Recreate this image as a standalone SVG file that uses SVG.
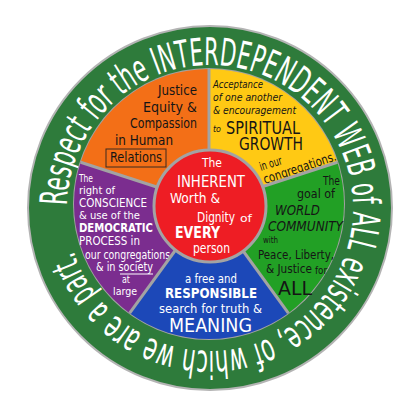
<svg xmlns="http://www.w3.org/2000/svg" width="420" height="420" viewBox="0 0 420 420">
<defs>
<style>
text{font-family:"Liberation Sans Narrow","DejaVu Sans Condensed","Liberation Sans",sans-serif;}
.k{fill:#151515;}
.w{fill:#ffffff;}
.it{font-style:italic;}
.sep{stroke:#a3a3a3;stroke-width:3;fill:none;}
</style>
<path id="ringPath" d="M67.02,205.50 A143,143 0 0 1 352.98,210.50 A143,143 0 0 1 69.17,232.83"/>
</defs>
<rect width="420" height="420" fill="#ffffff"/>
<g id="ring">
<circle cx="210" cy="208" r="182" fill="#2e7b3b" stroke="#b4b4b4" stroke-width="2"/>
<text class="w" font-size="38"><textPath href="#ringPath" textLength="852" lengthAdjust="spacingAndGlyphs">Respect for the INTERDEPENDENT WEB of ALL existence, of which we are a part.</textPath></text>
</g>
<g id="disc">
<circle cx="209" cy="204" r="136" fill="#a3a3a3"/>
</g>
<g id="sector-orange">
<path d="M209,204 L80.61,162.28 A135,135 0 0 1 209,69 Z" fill="#f36f17"/>
<g font-size="14" class="k">
<text x="158" y="95" textLength="39" lengthAdjust="spacingAndGlyphs">Justice</text>
<text x="143" y="112" textLength="54" lengthAdjust="spacingAndGlyphs">Equity &amp;</text>
<text x="130" y="128" textLength="67" lengthAdjust="spacingAndGlyphs">Compassion</text>
<text x="115" y="145" textLength="58" lengthAdjust="spacingAndGlyphs">in Human</text>
<text x="110" y="162" textLength="52" lengthAdjust="spacingAndGlyphs">Relations</text>
</g>
<rect x="106" y="149" width="60" height="18" fill="none" stroke="#3a2a20" stroke-width="1"/>
</g>
<g id="sector-yellow">
<path d="M209,204 L209,69 A135,135 0 0 1 337.39,162.28 Z" fill="#ffc914"/>
<g class="k it">
<text x="213" y="88" font-size="11" textLength="50" lengthAdjust="spacingAndGlyphs">Acceptance</text>
<text x="213" y="101" font-size="11" textLength="69" lengthAdjust="spacingAndGlyphs">of one another</text>
<text x="213" y="114" font-size="11" textLength="83" lengthAdjust="spacingAndGlyphs">&amp; encouragement</text>
<text x="213" y="132" font-size="9" textLength="8" lengthAdjust="spacingAndGlyphs">to</text>
</g>
<g class="k" font-size="17">
<text x="226" y="134" textLength="74" lengthAdjust="spacingAndGlyphs">SPIRITUAL</text>
<text x="239" y="150" textLength="64" lengthAdjust="spacingAndGlyphs">GROWTH</text>
</g>
<text class="k" font-size="12" transform="translate(261,171) rotate(-18)" textLength="23" lengthAdjust="spacingAndGlyphs">in our</text>
<text class="k" font-size="13" transform="translate(265,184) rotate(-18.4)" textLength="76" lengthAdjust="spacingAndGlyphs">congregations.</text>
</g>
<g id="sector-green">
<path d="M209,204 L337.39,162.28 A135,135 0 0 1 288.35,313.22 Z" fill="#22a025"/>
<g class="k">
<text x="323" y="185" font-size="12" textLength="17" lengthAdjust="spacingAndGlyphs">The</text>
<text x="297" y="198" font-size="12" textLength="38" lengthAdjust="spacingAndGlyphs">goal of</text>
<text x="275" y="215" font-size="14" class="it" textLength="45" lengthAdjust="spacingAndGlyphs">WORLD</text>
<text x="268" y="231" font-size="14" class="it" textLength="75" lengthAdjust="spacingAndGlyphs">COMMUNITY</text>
<text x="263" y="243" font-size="9" textLength="15" lengthAdjust="spacingAndGlyphs">with</text>
<text x="258" y="259" font-size="13" textLength="76" lengthAdjust="spacingAndGlyphs">Peace, Liberty,</text>
<text x="266" y="273" font-size="13" textLength="46" lengthAdjust="spacingAndGlyphs">&amp; Justice</text>
<text x="315" y="274" font-size="10" textLength="12" lengthAdjust="spacingAndGlyphs">for</text>
<text x="278" y="295" font-size="20" textLength="34" lengthAdjust="spacingAndGlyphs">ALL</text>
</g>
</g>
<g id="sector-blue">
<path d="M209,204 L288.35,313.22 A135,135 0 0 1 129.65,313.22 Z" fill="#1c48b8"/>
<g class="w">
<text x="185" y="283" font-size="13" textLength="52" lengthAdjust="spacingAndGlyphs">a free and</text>
<text x="165" y="298" font-size="14" font-weight="bold" textLength="92" lengthAdjust="spacingAndGlyphs">RESPONSIBLE</text>
<text x="159" y="313" font-size="13" textLength="103" lengthAdjust="spacingAndGlyphs">search for truth &amp;</text>
<text x="169" y="332" font-size="20" textLength="83" lengthAdjust="spacingAndGlyphs">MEANING</text>
</g>
</g>
<g id="sector-purple">
<path d="M209,204 L129.65,313.22 A135,135 0 0 1 80.61,162.28 Z" fill="#7b2d8f"/>
<g class="w">
<text x="79" y="182" font-size="11" textLength="14" lengthAdjust="spacingAndGlyphs">The</text>
<text x="79" y="194" font-size="11" textLength="36" lengthAdjust="spacingAndGlyphs">right of</text>
<text x="79" y="207" font-size="13" textLength="68" lengthAdjust="spacingAndGlyphs">CONSCIENCE</text>
<text x="79" y="219" font-size="11" textLength="61" lengthAdjust="spacingAndGlyphs">&amp; use of the</text>
<text x="79" y="232" font-size="13" font-weight="bold" textLength="74" lengthAdjust="spacingAndGlyphs">DEMOCRATIC</text>
<text x="79" y="245" font-size="13" textLength="61" lengthAdjust="spacingAndGlyphs">PROCESS in</text>
<text x="85" y="259" font-size="12" textLength="85" lengthAdjust="spacingAndGlyphs">our congregations</text>
<text x="96" y="271" font-size="12" textLength="57" lengthAdjust="spacingAndGlyphs">&amp; in society</text>
<text x="122" y="283" font-size="11" textLength="8" lengthAdjust="spacingAndGlyphs">at</text>
<text x="113" y="295" font-size="11" textLength="24" lengthAdjust="spacingAndGlyphs">large</text>
</g>
<line x1="120" y1="274" x2="153" y2="274" stroke="#ffffff" stroke-width="1"/>
</g>
<g id="separators">
<line class="sep" x1="209" y1="204" x2="209" y2="69"/>
<line class="sep" x1="209" y1="204" x2="337.39" y2="162.28"/>
<line class="sep" x1="209" y1="204" x2="288.35" y2="313.22"/>
<line class="sep" x1="209" y1="204" x2="129.65" y2="313.22"/>
<line class="sep" x1="209" y1="204" x2="80.61" y2="162.28"/>
</g>
<g id="center">
<circle cx="210" cy="206" r="56" fill="#ee1d24" stroke="#a3a3a3" stroke-width="3"/>
<g class="w">
<text x="202" y="167" font-size="13" textLength="20" lengthAdjust="spacingAndGlyphs">The</text>
<text x="177" y="187" font-size="15" textLength="68" lengthAdjust="spacingAndGlyphs">INHERENT</text>
<text x="170" y="203" font-size="14" textLength="50" lengthAdjust="spacingAndGlyphs">Worth &amp;</text>
<text x="197" y="222" font-size="14" textLength="38" lengthAdjust="spacingAndGlyphs">Dignity</text>
<text x="240" y="222" font-size="11" textLength="12" lengthAdjust="spacingAndGlyphs">of</text>
<text x="175" y="238" font-size="16" font-weight="bold" textLength="45" lengthAdjust="spacingAndGlyphs">EVERY</text>
<text x="193" y="253" font-size="14" textLength="37" lengthAdjust="spacingAndGlyphs">person</text>
</g>
</g>
</svg>
